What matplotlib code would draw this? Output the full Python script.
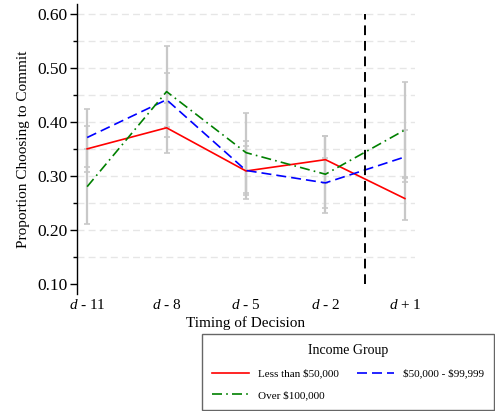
import numpy as np
import matplotlib
matplotlib.use("Agg")
import matplotlib.pyplot as plt

plt.rcParams["font.family"] = ["Liberation Serif", "DejaVu Serif"]
plt.rcParams["mathtext.fontset"] = "custom"
plt.rcParams["mathtext.rm"] = "Liberation Serif"
plt.rcParams["mathtext.it"] = "Liberation Serif:italic"

timing = [r"$d$ - 11", r"$d$ - 8", r"$d$ - 5", r"$d$ - 2", r"$d$ + 1"]

low_mean = [0.350, 0.389, 0.309, 0.330, 0.258]
low_lo = [0.307, 0.343, 0.257, 0.287, 0.218]
low_hi = [0.393, 0.435, 0.364, 0.373, 0.298]

mid_mean = [0.371, 0.441, 0.310, 0.287, 0.335]
mid_lo = [0.317, 0.391, 0.265, 0.241, 0.288]
mid_hi = [0.423, 0.491, 0.355, 0.333, 0.385]

high_mean = [0.280, 0.456, 0.343, 0.303, 0.385]
high_lo = [0.211, 0.372, 0.269, 0.232, 0.296]
high_hi = [0.349, 0.540, 0.417, 0.373, 0.474]

x = np.arange(len(timing))

fig = plt.figure(figsize=(4.95, 4.11), dpi=100)
ax = fig.add_axes([0.156, 0.285, 0.682, 0.705])

for m, lo, hi in [(low_mean, low_lo, low_hi), (mid_mean, mid_lo, mid_hi),
                  (high_mean, high_lo, high_hi)]:
    m = np.array(m)
    yerr = [m - np.array(lo), np.array(hi) - m]
    ax.errorbar(x, m, yerr=yerr, fmt="none", ecolor="#c8c8c8", elinewidth=1.6,
                capsize=2, capthick=1.2, zorder=1)

l1, = ax.plot(x, low_mean, color="#ff0000", lw=1.2, zorder=3)
l2, = ax.plot(x, mid_mean, color="#0000ff", lw=1.2, ls=(0, (6, 3)), zorder=3)
l3, = ax.plot(x, high_mean, color="#008000", lw=1.2, ls=(0, (6, 2.5, 1, 2.5)),
              zorder=3)

ax.vlines(3.5, 0.10, 0.60, color="black", lw=1.4, ls=(0, (5, 3)), zorder=4)

ax.set_xlim(-0.125, 4.125)
ax.set_ylim(0.0815, 0.618)
ax.set_yticks([0.1, 0.2, 0.3, 0.4, 0.5, 0.6])
ax.set_yticks(np.arange(0.15, 0.6, 0.1), minor=True)
ax.set_yticklabels(["0.10", "0.20", "0.30", "0.40", "0.50", "0.60"])
ax.set_xticks(x)
ax.set_xticklabels(timing)
ax.tick_params(axis="x", length=0, pad=3, labelsize=11)
ax.tick_params(axis="y", which="major", length=5, width=1, labelsize=12.5, pad=2)
ax.tick_params(axis="y", which="minor", length=3, width=1)

for g in np.arange(0.15, 0.61, 0.05):
    ax.axhline(g, color="#e6e6e6", lw=1, ls=(0, (5, 3)), zorder=0)

for s in ["top", "right", "bottom"]:
    ax.spines[s].set_visible(False)
ax.spines["left"].set_linewidth(1)

ax.set_xlabel("Timing of Decision", fontsize=11, labelpad=3)
ax.set_ylabel("Proportion Choosing to Commit", fontsize=11, labelpad=5)

leg = fig.legend([l1, l3, l2], ["Less than \\$50,000", "Over \\$100,000", "\\$50,000 - \\$99,999"],
                 loc="lower right", bbox_to_anchor=(0.998, 0.002), ncol=2,
                 title="Income Group", fontsize=8, title_fontsize=10,
                 frameon=True, fancybox=False, edgecolor="#404040",
                 handlelength=3.3, columnspacing=1.7, borderpad=0.9,
                 labelspacing=1.05, borderaxespad=0, handletextpad=0.8)
leg.get_frame().set_linewidth(1)

fig.savefig("out.png", dpi=100)
